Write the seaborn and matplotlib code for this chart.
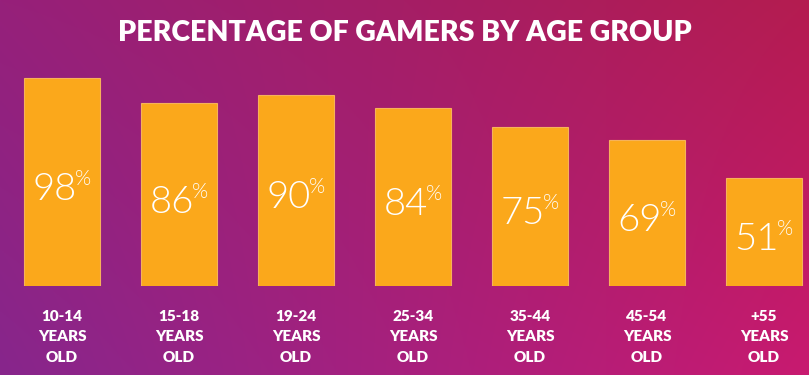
import numpy as np
import pandas as pd
import matplotlib
matplotlib.use("Agg")
import matplotlib.pyplot as plt
import matplotlib.transforms as mtransforms
import seaborn as sns

categories = ["10-14\nYEARS\nOLD", "15-18\nYEARS\nOLD", "19-24\nYEARS\nOLD",
              "25-34\nYEARS\nOLD", "35-44\nYEARS\nOLD", "45-54\nYEARS\nOLD",
              "+55\nYEARS\nOLD"]
values = [98, 86, 90, 84, 75, 69, 51]
title = "PERCENTAGE OF GAMERS BY AGE GROUP"

sns.set_style("white")
plt.rcParams['font.family'] = ['Lato', 'DejaVu Sans']

W, H = 809, 375
fig = plt.figure(figsize=(W / 100, H / 100), dpi=100)

# background gradient
bg = fig.add_axes([0, 0, 1, 1], zorder=-10)
tl = np.array([150, 32, 122]) / 255
tr = np.array([180, 28, 80]) / 255
bl = np.array([135, 38, 140]) / 255
br = np.array([200, 26, 112]) / 255
yy, xx = np.mgrid[0:1:200j, 0:1:400j]
img = (tl[None, None, :] * ((1 - xx) * (1 - yy))[..., None]
       + tr[None, None, :] * (xx * (1 - yy))[..., None]
       + bl[None, None, :] * ((1 - xx) * yy)[..., None]
       + br[None, None, :] * (xx * yy)[..., None])
bg.imshow(img, aspect='auto', extent=[0, 1, 1, 0])
bg.set_xlim(0, 1)
bg.set_ylim(1, 0)
bg.axis('off')

bottom_px = 286
ax = fig.add_axes([0, (H - bottom_px) / H, 1, bottom_px / H])
ax.patch.set_alpha(0)

df = pd.DataFrame({"age": categories, "pct": values})
sns.barplot(data=df, x="age", y="pct", color="#FBA81B", saturation=1,
            width=0.65, ax=ax, edgecolor="#F6B25A", linewidth=0.8)

px_per_unit = 208 / 98
ax.set_ylim(0, bottom_px / px_per_unit)
ax.set_xlim(-62 / 117, (W - 62) / 117)

fig.canvas.draw()
renderer = fig.canvas.get_renderer()
fam = ['Lato', 'DejaVu Sans']
for i, v in enumerate(values):
    ymid = v / 2 - 8 / px_per_unit
    num = ax.text(i, ymid, f"{v}", ha='left', va='center', color='white',
                  fontsize=27.5, fontweight=300, family=fam)
    pct = ax.text(i, ymid, "%", ha='left', va='bottom', color='white',
                  fontsize=15, fontweight=300, family=fam)
    wn = num.get_window_extent(renderer).width
    wp = pct.get_window_extent(renderer).width
    gap = -2
    total = wn + wp + gap
    num.set_transform(ax.transData + mtransforms.ScaledTranslation(
        -total / 2 / 100, 0, fig.dpi_scale_trans))
    pct.set_transform(ax.transData + mtransforms.ScaledTranslation(
        (-total / 2 + wn + gap) / 100, 1 / 100, fig.dpi_scale_trans))

ax.set_xlabel("")
ax.set_ylabel("")
ax.set_yticks([])
ax.tick_params(axis='x', length=0, pad=17)
for lab in ax.get_xticklabels():
    lab.set_color('white')
    lab.set_fontweight('heavy')
    lab.set_fontsize(11)
    lab.set_linespacing(1.68)
for s in ax.spines.values():
    s.set_visible(False)

fig.text(0.5, 1 - 33 / H, title, ha='center', va='center', color='white',
         fontsize=20.5, fontweight='heavy', family=fam)

fig.savefig("out.png", dpi=100)
